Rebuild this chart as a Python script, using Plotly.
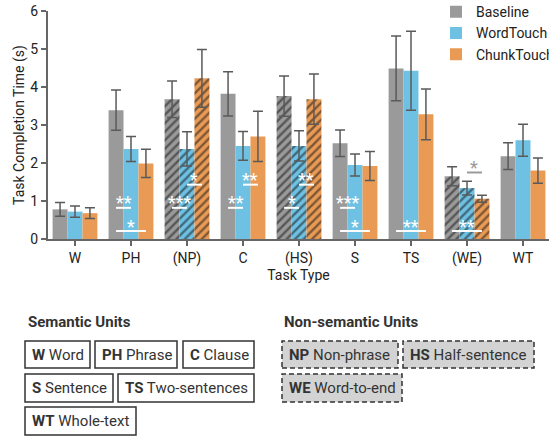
import plotly.graph_objects as go

# ---------------- data ----------------
categories = ["W", "PH", "(NP)", "C", "(HS)", "S", "TS", "(WE)", "WT"]
hatched = [False, False, True, False, True, False, False, True, False]

baseline = [0.78, 3.39, 3.68, 3.82, 3.76, 2.52, 4.49, 1.65, 2.18]
baseline_err = [0.18, 0.53, 0.48, 0.58, 0.53, 0.35, 0.85, 0.25, 0.35]
wordtouch = [0.72, 2.37, 2.37, 2.45, 2.45, 1.95, 4.43, 1.34, 2.60]
wordtouch_err = [0.15, 0.33, 0.45, 0.38, 0.40, 0.29, 1.04, 0.18, 0.42]
chunktouch = [0.68, 1.99, 4.23, 2.70, 3.68, 1.92, 3.28, 1.06, 1.80]
chunktouch_err = [0.14, 0.37, 0.76, 0.66, 0.66, 0.38, 0.67, 0.09, 0.33]

series_names = ["Baseline", "WordTouch", "ChunkTouch"]

# significance: (category index, series a, series b, stars, bracket height, colour key)
significance = [
    (1, 0, 1, "**", 0.82, "w"), (1, 0, 2, "*", 0.21, "w"),
    (2, 0, 1, "***", 0.82, "w"), (2, 1, 2, "*", 1.43, "w"),
    (3, 0, 1, "**", 0.82, "w"), (3, 1, 2, "**", 1.43, "w"),
    (4, 0, 1, "*", 0.82, "w"), (4, 1, 2, "**", 1.43, "w"),
    (5, 0, 1, "***", 0.82, "w"), (5, 0, 2, "*", 0.21, "w"),
    (6, 0, 2, "**", 0.21, "w"),
    (7, 0, 2, "**", 0.21, "w"), (7, 1, 2, "*", 1.75, "g"),
]

semantic_units = [("W", "Word"), ("PH", "Phrase"), ("C", "Clause"),
                  ("S", "Sentence"), ("TS", "Two-sentences"), ("WT", "Whole-text")]
nonsemantic_units = [("NP", "Non-phrase"), ("HS", "Half-sentence"), ("WE", "Word-to-end")]

# ---------------- style ----------------
W, H = 549, 438
ML, MR, MT, MB = 48, 0, 11, 199
PW, PH_ = W - ML - MR, H - MT - MB
FONT = "Roboto"
colors = ["#9a9a9a", "#6ec1e3", "#e99b56"]
err_color = "#5a5a5a"
sig_colors = {"w": "#ffffff", "g": "#9a9a9a"}
BAR_SPAN = 0.8
nser = 3
bw = BAR_SPAN / nser
offsets = [(-1 + i) * bw for i in range(nser)]


def px_x(px):
    return (px - ML) / PW


def px_y(py):
    return (H - MB - py) / PH_


fig = go.Figure()
values = [baseline, wordtouch, chunktouch]
errs = [baseline_err, wordtouch_err, chunktouch_err]
for name, v, e, c in zip(series_names, values, errs, colors):
    fig.add_trace(go.Bar(
        name=name, x=categories, y=v,
        marker=dict(
            color=c, line=dict(width=0),
            pattern=dict(shape=["/" if h else "" for h in hatched],
                         fgcolor="#111111", size=6, solidity=0.4,
                         fillmode="overlay"),
        ),
        error_y=dict(type="data", array=e, color=err_color, thickness=1.5, width=5),
    ))

shapes = []
annotations = []
for ci, a, b, stars, yv, ck in significance:
    x0 = ci + offsets[a]
    x1 = ci + offsets[b]
    col = sig_colors[ck]
    shapes.append(dict(type="line", xref="x", yref="y", x0=x0, x1=x1, y0=yv, y1=yv,
                       line=dict(color=col, width=2), layer="above"))
    annotations.append(dict(x=(x0 + x1) / 2, y=yv, xref="x", yref="y", text=stars,
                            showarrow=False, yanchor="middle", yshift=5,
                            font=dict(family=FONT, size=18, color=col)))

# ---------------- key below chart ----------------
TEXT_C = "#333333"
annotations.append(dict(x=px_x(26), y=px_y(322), xref="paper", yref="paper",
                        text="<b>Semantic Units</b>", showarrow=False,
                        xanchor="left", yanchor="middle",
                        font=dict(family=FONT, size=15, color=TEXT_C)))
annotations.append(dict(x=px_x(282), y=px_y(322), xref="paper", yref="paper",
                        text="<b>Non-semantic Units</b>", showarrow=False,
                        xanchor="left", yanchor="middle",
                        font=dict(family=FONT, size=15, color=TEXT_C)))

rows = [(341, 368), (374, 402), (407, 435)]
sem_boxes = [(0, 25, 90), (0, 95, 177), (0, 183, 254),
             (1, 25, 113), (1, 118, 254), (2, 25, 136)]
non_boxes = [(0, 282, 398), (0, 403, 534), (1, 282, 402)]


def add_box(unit, box, fill, dash):
    r, xl, xr = box
    yt, yb = rows[r]
    shapes.append(dict(type="rect", xref="paper", yref="paper",
                       x0=px_x(xl), x1=px_x(xr), y0=px_y(yb), y1=px_y(yt),
                       line=dict(color="#333333", width=1.5, dash=dash),
                       fillcolor=fill, layer="above"))
    annotations.append(dict(x=px_x(xl + 5), y=px_y((yt + yb) / 2), xref="paper",
                            yref="paper", text=f"<b>{unit[0]}</b> {unit[1]}",
                            showarrow=False, xanchor="left", yanchor="middle",
                            font=dict(family=FONT, size=15, color=TEXT_C)))


for u, bx in zip(semantic_units, sem_boxes):
    add_box(u, bx, "#ffffff", "solid")
for u, bx in zip(nonsemantic_units, non_boxes):
    add_box(u, bx, "#d3d3d3", "5px,3px")

fig.update_layout(
    width=W, height=H,
    margin=dict(l=ML, r=MR, t=MT, b=MB, autoexpand=False),
    paper_bgcolor="white", plot_bgcolor="white",
    barmode="group", bargap=1 - BAR_SPAN, bargroupgap=0,
    font=dict(family=FONT, size=14, color="#222222"),
    showlegend=True,
    legend=dict(x=px_x(436), y=1.065, xanchor="left", yanchor="top",
                font=dict(family=FONT, size=14, color="#222222"),
                bgcolor="rgba(0,0,0,0)", itemclick=False),
    shapes=shapes, annotations=annotations,
)
fig.update_xaxes(range=[-0.482, 8.464], showline=True, linecolor="#666666", linewidth=2,
                 ticks="outside", ticklen=5, tickcolor="#666666", tickwidth=1.5,
                 showgrid=False, zeroline=False,
                 title=dict(text="Task Type", font=dict(family=FONT, size=14), standoff=1),
                 tickfont=dict(family=FONT, size=14))
fig.update_yaxes(range=[0, 6], showline=True, linecolor="#666666", linewidth=2,
                 ticks="outside", ticklen=5, tickcolor="#666666", tickwidth=1.5,
                 showgrid=False, zeroline=False, dtick=1,
                 title=dict(text="Task Completion Time (s)", font=dict(family=FONT, size=14),
                            standoff=2),
                 tickfont=dict(family=FONT, size=14))

fig.write_html("out.html",
               config={"displayModeBar": False},
               post_script="document.body.style.margin='0';document.body.style.overflow='hidden';")
